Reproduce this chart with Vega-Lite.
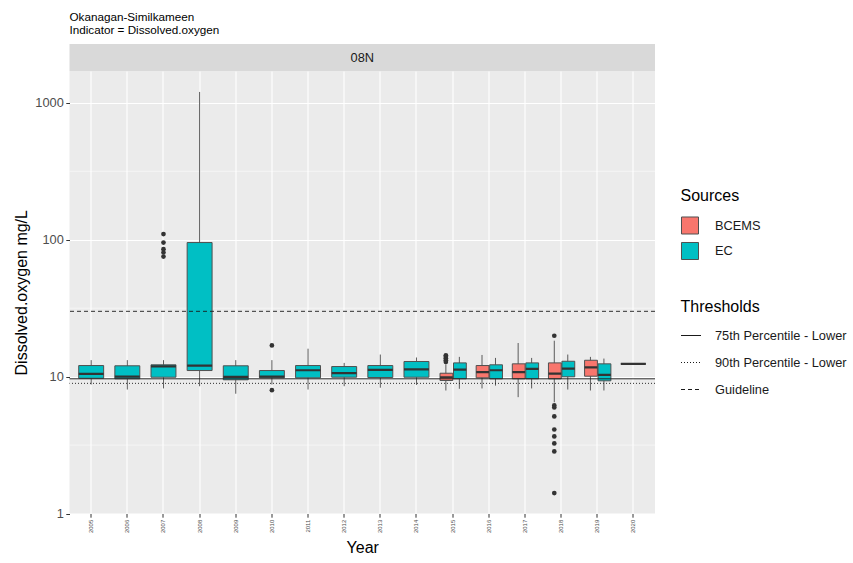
{
  "$schema": "https://vega.github.io/schema/vega-lite/v6.json",
  "background": "white",
  "padding": {"left": 13.5, "top": 11, "right": 5, "bottom": 5},
  "config": {
    "font": "Liberation Sans",
    "view": {"stroke": null},
    "axis": {
      "domain": false,
      "tickColor": "#333333",
      "tickSize": 3.7,
      "tickWidth": 1,
      "labelColor": "#4D4D4D",
      "titleColor": "#000000",
      "titleFontWeight": "normal",
      "titleFontSize": 16,
      "gridColor": "#FFFFFF",
      "gridWidth": 1.07
    },
    "legend": {
      "titleFontSize": 16,
      "titleFontWeight": "normal",
      "titleColor": "#000000",
      "labelFontSize": 12.8,
      "labelColor": "#1A1A1A",
      "padding": 0
    }
  },
  "datasets": {
    "summary": [
      {"Year": "2005", "Sources": "EC", "lower": 8.76, "q1": 9.73, "median": 10.48, "q3": 12.05, "upper": 13.2},
      {"Year": "2006", "Sources": "EC", "lower": 8.05, "q1": 9.64, "median": 10.0, "q3": 12.0, "upper": 13.2},
      {"Year": "2007", "Sources": "EC", "lower": 8.2, "q1": 9.9, "median": 11.9, "q3": 12.2, "upper": 13.2},
      {"Year": "2008", "Sources": "EC", "lower": 8.51, "q1": 11.08, "median": 12.05, "q3": 95.4, "upper": 1202},
      {"Year": "2009", "Sources": "EC", "lower": 7.5, "q1": 9.48, "median": 9.97, "q3": 12.0, "upper": 13.2},
      {"Year": "2010", "Sources": "EC", "lower": 8.76, "q1": 9.8, "median": 10.0, "q3": 11.08, "upper": 13.2},
      {"Year": "2011", "Sources": "EC", "lower": 8.05, "q1": 9.8, "median": 11.13, "q3": 12.05, "upper": 16.0},
      {"Year": "2012", "Sources": "EC", "lower": 8.51, "q1": 9.9, "median": 10.59, "q3": 11.85, "upper": 12.6},
      {"Year": "2013", "Sources": "EC", "lower": 8.3, "q1": 9.85, "median": 11.2, "q3": 12.05, "upper": 14.5},
      {"Year": "2014", "Sources": "EC", "lower": 8.7, "q1": 9.9, "median": 11.3, "q3": 12.9, "upper": 13.8},
      {"Year": "2015", "Sources": "BCEMS", "lower": 7.92, "q1": 9.37, "median": 9.9, "q3": 10.59, "upper": 12.3},
      {"Year": "2015", "Sources": "EC", "lower": 8.15, "q1": 9.64, "median": 11.26, "q3": 12.6, "upper": 13.94},
      {"Year": "2016", "Sources": "BCEMS", "lower": 8.2, "q1": 9.8, "median": 10.77, "q3": 12.05, "upper": 14.4},
      {"Year": "2016", "Sources": "EC", "lower": 8.6, "q1": 9.64, "median": 11.13, "q3": 12.2, "upper": 13.7},
      {"Year": "2017", "Sources": "BCEMS", "lower": 7.08, "q1": 9.64, "median": 10.77, "q3": 12.4, "upper": 17.6},
      {"Year": "2017", "Sources": "EC", "lower": 8.2, "q1": 9.64, "median": 11.4, "q3": 12.6, "upper": 13.7},
      {"Year": "2018", "Sources": "BCEMS", "lower": 6.5, "q1": 9.64, "median": 10.53, "q3": 12.6, "upper": 18.3},
      {"Year": "2018", "Sources": "EC", "lower": 8.05, "q1": 9.97, "median": 11.46, "q3": 12.95, "upper": 14.5},
      {"Year": "2019", "Sources": "BCEMS", "lower": 7.92, "q1": 10.07, "median": 11.7, "q3": 13.17, "upper": 13.94},
      {"Year": "2019", "Sources": "EC", "lower": 7.92, "q1": 9.32, "median": 10.3, "q3": 12.4, "upper": 13.55},
      {"Year": "2020", "Sources": "EC", "lower": 12.4, "q1": 12.4, "median": 12.4, "q3": 12.4, "upper": 12.4},
      {"Year": "2007", "Sources": "EC", "outlier": 110},
      {"Year": "2007", "Sources": "EC", "outlier": 95.4},
      {"Year": "2007", "Sources": "EC", "outlier": 85.4},
      {"Year": "2007", "Sources": "EC", "outlier": 80.7},
      {"Year": "2007", "Sources": "EC", "outlier": 75.4},
      {"Year": "2010", "Sources": "EC", "outlier": 16.9},
      {"Year": "2010", "Sources": "EC", "outlier": 7.96},
      {"Year": "2015", "Sources": "BCEMS", "outlier": 12.8},
      {"Year": "2015", "Sources": "BCEMS", "outlier": 13.2},
      {"Year": "2015", "Sources": "BCEMS", "outlier": 13.6},
      {"Year": "2015", "Sources": "BCEMS", "outlier": 14.0},
      {"Year": "2015", "Sources": "BCEMS", "outlier": 14.3},
      {"Year": "2018", "Sources": "BCEMS", "outlier": 19.9},
      {"Year": "2018", "Sources": "BCEMS", "outlier": 6.16},
      {"Year": "2018", "Sources": "BCEMS", "outlier": 5.95},
      {"Year": "2018", "Sources": "BCEMS", "outlier": 5.12},
      {"Year": "2018", "Sources": "BCEMS", "outlier": 4.11},
      {"Year": "2018", "Sources": "BCEMS", "outlier": 3.66},
      {"Year": "2018", "Sources": "BCEMS", "outlier": 3.25},
      {"Year": "2018", "Sources": "BCEMS", "outlier": 2.84},
      {"Year": "2018", "Sources": "BCEMS", "outlier": 1.41}
    ],
    "thresholds": [
      {"Thresholds": "75th Percentile - Lower", "value": 9.64},
      {"Thresholds": "90th Percentile - Lower", "value": 8.93},
      {"Thresholds": "Guideline", "value": 30}
    ],
    "minorBreaks": [
      {"Break": 3.1623},
      {"Break": 31.623},
      {"Break": 316.23}
    ]
  },
  "spacing": 0,
  "resolve": {
    "scale": {"color": "independent", "strokeDash": "independent"},
    "legend": {"color": "independent", "strokeDash": "independent"}
  },
  "vconcat": [
    {
      "width": 585.5,
      "height": 27,
      "title": {
        "text": ["Okanagan-Similkameen", "Indicator = Dissolved.oxygen"],
        "anchor": "start",
        "frame": "group",
        "fontSize": 11.7,
        "fontWeight": "normal",
        "color": "#000000",
        "lineHeight": 13.5,
        "offset": 7
      },
      "view": {"fill": "#D9D9D9", "stroke": null},
      "data": {"values": [{"Panel": "08N"}]},
      "mark": {"type": "text", "fontSize": 12.8, "color": "#1A1A1A", "baseline": "middle", "align": "center"},
      "encoding": {"text": {"field": "Panel"}}
    },
    {
      "width": 585.5,
      "height": 442.5,
      "view": {"fill": "#EBEBEB", "stroke": null},
      "encoding": {
        "y": {
          "type": "quantitative",
          "scale": {"type": "log", "domain": [1, 1710], "nice": false, "zero": false}
        }
      },
      "layer": [
        {
          "data": {"name": "minorBreaks"},
          "mark": {"type": "rule", "color": "#FFFFFF", "strokeWidth": 0.53},
          "encoding": {
            "y": {
              "field": "Break",
              "type": "quantitative",
              "title": "Dissolved.oxygen mg/L",
              "axis": {
                "values": [1, 10, 100, 1000],
                "format": "d",
                "labelFontSize": 12.8,
                "labelPadding": 2.5,
                "titlePadding": 5,
                "grid": true
              }
            }
          }
        },
        {
          "data": {"name": "summary"},
          "transform": [
            {"joinaggregate": [{"op": "distinct", "field": "Sources", "as": "nSources"}], "groupby": ["Year"]}
          ],
          "encoding": {
            "x": {
              "field": "Year",
              "type": "nominal",
              "title": "Year",
              "scale": {
                "domain": ["2005","2006","2007","2008","2009","2010","2011","2012","2013","2014","2015","2016","2017","2018","2019","2020"],
                "paddingInner": 0,
                "paddingOuter": 0.1
              },
              "axis": {
                "labelAngle": 270,
                "labelFontSize": 6,
                "labelPadding": 2,
                "bandPosition": 0.5,
                "grid": true,
                "titlePadding": 7
              }
            }
          },
          "layer": [
            {
              "transform": [{"filter": "datum.nSources == 1 && isValid(datum.q1)"}],
              "mark": {"type": "rule", "color": "#5A5A5A", "strokeWidth": 1},
              "encoding": {
                "y": {"field": "lower", "type": "quantitative"},
                "y2": {"field": "upper"}
              }
            },
            {
              "transform": [{"filter": "datum.nSources == 1 && isValid(datum.q1)"}],
              "mark": {"type": "bar", "width": {"band": 0.69}, "stroke": "#505050", "strokeWidth": 1},
              "encoding": {
                "y": {"field": "q1", "type": "quantitative"},
                "y2": {"field": "q3"},
                "color": {
                  "field": "Sources",
                  "type": "nominal",
                  "scale": {"domain": ["BCEMS", "EC"], "range": ["#F8766D", "#00BFC4"]},
                  "legend": {
                    "title": "Sources",
                    "orient": "none",
                    "legendX": 611,
                    "legendY": 117,
                    "symbolType": "square",
                    "symbolSize": 290,
                    "symbolStrokeColor": "#333333",
                    "symbolStrokeWidth": 1,
                    "rowPadding": 2.5,
                    "titlePadding": 12,
                    "labelOffset": 15.5
                  }
                }
              }
            },
            {
              "transform": [{"filter": "datum.nSources == 1 && isValid(datum.q1)"}],
              "mark": {"type": "bar", "width": {"band": 0.69}, "fill": null, "stroke": "#333333", "strokeWidth": 2.2},
              "encoding": {
                "y": {"field": "median", "type": "quantitative"},
                "y2": {"field": "median"}
              }
            },
            {
              "transform": [{"filter": "datum.nSources == 1 && isValid(datum.outlier)"}],
              "mark": {"type": "circle", "size": 22, "color": "#333333", "opacity": 1},
              "encoding": {
                "y": {"field": "outlier", "type": "quantitative"}
              }
            },
            {
              "transform": [{"filter": "datum.nSources == 2 && isValid(datum.q1)"}],
              "mark": {"type": "rule", "color": "#5A5A5A", "strokeWidth": 1},
              "encoding": {
                "xOffset": {"field": "Sources", "scale": {"domain": ["BCEMS", "EC"], "paddingInner": 0, "paddingOuter": 0.34}},
                "y": {"field": "lower", "type": "quantitative"},
                "y2": {"field": "upper"}
              }
            },
            {
              "transform": [{"filter": "datum.nSources == 2 && isValid(datum.q1)"}],
              "mark": {"type": "bar", "width": {"band": 0.95}, "stroke": "#505050", "strokeWidth": 1},
              "encoding": {
                "xOffset": {"field": "Sources", "scale": {"domain": ["BCEMS", "EC"], "paddingInner": 0, "paddingOuter": 0.34}},
                "y": {"field": "q1", "type": "quantitative"},
                "y2": {"field": "q3"},
                "color": {
                  "field": "Sources",
                  "type": "nominal",
                  "scale": {"domain": ["BCEMS", "EC"], "range": ["#F8766D", "#00BFC4"]}
                }
              }
            },
            {
              "transform": [{"filter": "datum.nSources == 2 && isValid(datum.q1)"}],
              "mark": {"type": "bar", "width": {"band": 0.95}, "fill": null, "stroke": "#333333", "strokeWidth": 2.2},
              "encoding": {
                "xOffset": {"field": "Sources", "scale": {"domain": ["BCEMS", "EC"], "paddingInner": 0, "paddingOuter": 0.34}},
                "y": {"field": "median", "type": "quantitative"},
                "y2": {"field": "median"}
              }
            },
            {
              "transform": [{"filter": "datum.nSources == 2 && isValid(datum.outlier)"}],
              "mark": {"type": "circle", "size": 22, "color": "#333333", "opacity": 1},
              "encoding": {
                "xOffset": {"field": "Sources", "scale": {"domain": ["BCEMS", "EC"], "paddingInner": 0, "paddingOuter": 0.34}},
                "y": {"field": "outlier", "type": "quantitative"}
              }
            }
          ]
        },
        {
          "data": {"name": "thresholds"},
          "mark": {"type": "rule", "color": "#1A1A1A", "strokeWidth": 0.9},
          "encoding": {
            "y": {"field": "value", "type": "quantitative"},
            "strokeDash": {
              "field": "Thresholds",
              "type": "nominal",
              "scale": {
                "domain": ["75th Percentile - Lower", "90th Percentile - Lower", "Guideline"],
                "range": [[1, 0], [1, 2], [4, 3]]
              },
              "legend": {
                "title": "Thresholds",
                "orient": "none",
                "legendX": 611,
                "legendY": 228,
                "symbolType": "stroke",
                "symbolSize": 400,
                "symbolStrokeColor": "#1A1A1A",
                "symbolStrokeWidth": 1,
                "rowPadding": 9,
                "titlePadding": 10,
                "labelOffset": 13.5
              }
            }
          }
        }
      ]
    }
  ]
}
